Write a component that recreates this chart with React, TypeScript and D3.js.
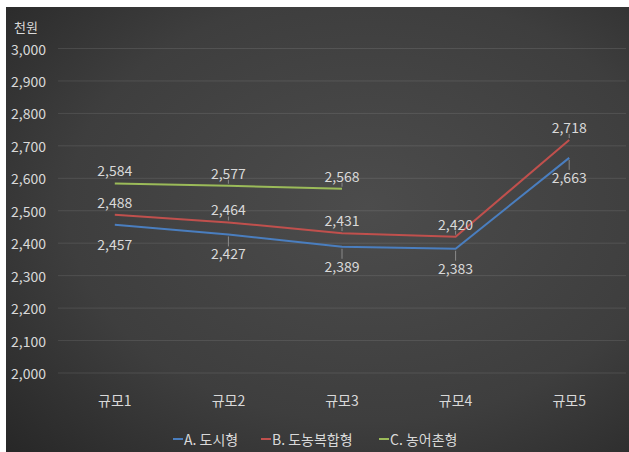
import * as React from 'react';
import * as d3 from 'd3';

const categories: string[] = ['규모1', '규모2', '규모3', '규모4', '규모5'];
const seriesNames: string[] = ['A. 도시형', 'B. 도농복합형', 'C. 농어촌형'];
const seriesColors: string[] = ['#4a7ebf', '#c0504d', '#9bbb59'];
const cityValues: (number | null)[] = [2457, 2427, 2389, 2383, 2663];
const mixedValues: (number | null)[] = [2488, 2464, 2431, 2420, 2718];
const ruralValues: (number | null)[] = [2584, 2577, 2568, null, null];
const yTicks: number[] = [2000, 2100, 2200, 2300, 2400, 2500, 2600, 2700, 2800, 2900, 3000];
const unitLabel = '천원';

const WIDTH = 629;
const HEIGHT = 452;
const FONT = '"Noto Sans CJK KR", "Noto Sans", sans-serif';
const TEXT = '#d9d9d9';

export default function App() {
    const plot = { left: 58, right: 626, top: 48.5, bottom: 373 };

    const xScale = d3.scaleBand<string>()
        .domain(categories)
        .range([plot.left, plot.right]);

    const yScale = d3.scaleLinear()
        .domain([2000, 3000])
        .range([plot.bottom, plot.top]);

    const cx = (c: string) => (xScale(c) as number) + xScale.bandwidth() / 2;

    const series = [cityValues, mixedValues, ruralValues];
    // where the data label sits: below the line for 도시형, above for the others
    const labelSide = [1, -1, -1];

    const line = d3.line<number | null>()
        .defined(d => d != null)
        .x((d, i) => cx(categories[i]))
        .y(d => yScale(d as number));

    const fmt = d3.format(',');

    // legend positions
    const legendX = [173, 261, 379];

    return (
        <div style={{ position: 'absolute', left: 0, top: 0 }}>
            <svg width={WIDTH} height={HEIGHT} style={{ display: 'block', fontFamily: FONT }}>
                <defs>
                    <radialGradient id="bg" cx="0.58" cy="0.45" r="0.8">
                        <stop offset="0" stopColor="#4c4c4c" />
                        <stop offset="0.6" stopColor="#3e3e3e" />
                        <stop offset="1" stopColor="#272727" />
                    </radialGradient>
                </defs>
                <rect x={0} y={0} width={WIDTH} height={HEIGHT} fill="#ffffff" />
                <rect x={6} y={7} width={WIDTH - 6} height={HEIGHT - 7} fill="url(#bg)" />

                {/* horizontal grid + y tick labels */}
                {yTicks.map(t => (
                    <g key={t}>
                        <line x1={plot.left} x2={plot.right} y1={yScale(t)} y2={yScale(t)}
                            stroke="#ffffff" strokeOpacity={0.1} strokeWidth={1} />
                        <text x={11} y={yScale(t)} dominantBaseline="central" fill={TEXT}
                            fontSize={14}>{fmt(t)}</text>
                    </g>
                ))}
                <text x={14} y={26} dominantBaseline="central" fill={TEXT} fontSize={13}>{unitLabel}</text>

                {/* category labels */}
                {categories.map(c => (
                    <text key={c} x={cx(c)} y={400} textAnchor="middle" dominantBaseline="central"
                        fill={TEXT} fontSize={14}>{c}</text>
                ))}

                {/* lines */}
                {series.map((vals, si) => (
                    <path key={si} d={line(vals) || ''} fill="none" stroke={seriesColors[si]}
                        strokeWidth={2} />
                ))}

                {/* data labels with short leader lines */}
                {series.map((vals, si) => vals.map((v, i) => {
                    if (v == null) return null;
                    const x = cx(categories[i]);
                    const y = yScale(v);
                    const side = labelSide[si];
                    const ly = side < 0 ? y - 13 : y + 19;
                    const edge = side < 0 ? ly + 7 : ly - 7;
                    const gap = Math.abs(y - edge);
                    return (
                        <g key={si + '-' + i}>
                            {gap > 5 && i > 0 && (
                                <line x1={x} x2={x} y1={edge} y2={y + (side < 0 ? -2 : 2)}
                                    stroke="#8a8a8a" strokeWidth={1} />
                            )}
                            <text x={x} y={ly} textAnchor="middle" dominantBaseline="central"
                                fill={TEXT} fontSize={14}>{fmt(v)}</text>
                        </g>
                    );
                }))}

                {/* legend */}
                {seriesNames.map((n, si) => (
                    <g key={n}>
                        <line x1={legendX[si]} x2={legendX[si] + 10} y1={439} y2={439}
                            stroke={seriesColors[si]} strokeWidth={2} />
                        <text x={legendX[si] + 11} y={439} dominantBaseline="central" fill={TEXT}
                            fontSize={14}>{n}</text>
                    </g>
                ))}
            </svg>
        </div>
    );
}
